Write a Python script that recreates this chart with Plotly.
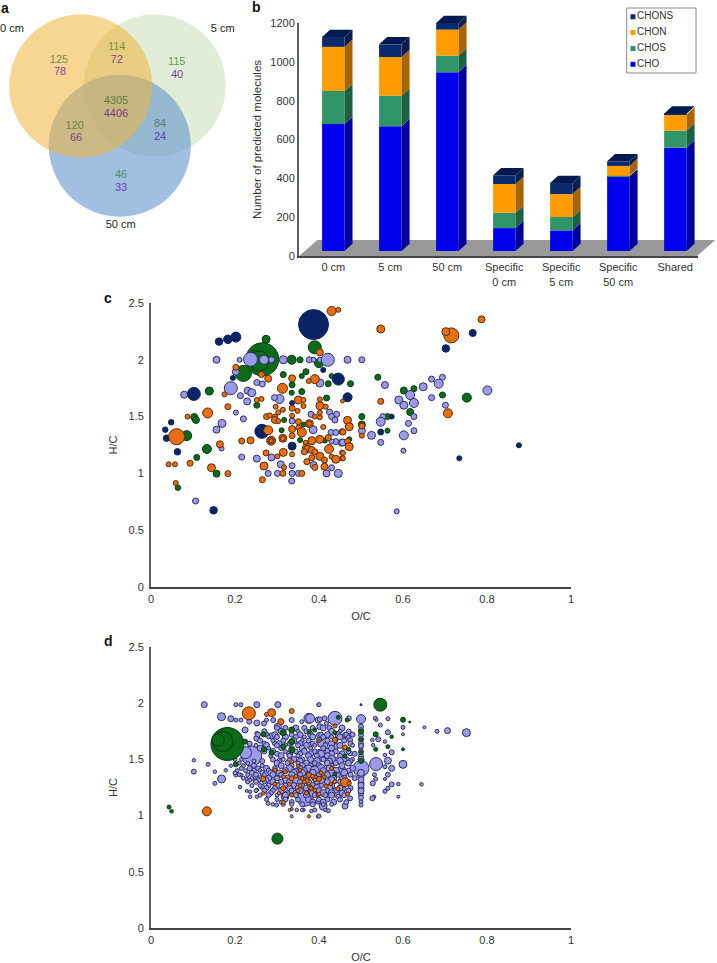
import plotly.graph_objects as go

W, H = 717, 963

# ---------- panel a ----------
VENN_LABELS = ["0 cm", "5 cm", "50 cm"]
VENN_TOP = ["125", "114", "115", "4305", "120", "84", "46"]
VENN_BOTTOM = ["78", "72", "40", "4406", "66", "24", "33"]

# ---------- panel b ----------
CATEGORIES = ["0 cm", "5 cm", "50 cm", "Specific<br>0 cm", "Specific<br>5 cm", "Specific<br>50 cm", "Shared"]
CHO = [654, 642, 920, 118, 106, 385, 532]
CHOS = [170, 158, 86, 79, 69, 2, 88]
CHON = [227, 199, 134, 148, 118, 51, 82]
CHONS = [51, 65, 34, 45, 57, 24, 5]

# ---------- panel c : (O/C, H/C, bubble size) ----------
C_GREEN = [(.265,2.004,33),(.245,2.02,14),(.258,1.99,20),(.22,1.88,16),(.274,2.18,8),(.39,2.11,13),(.40,1.97,9),(.335,2.0,9),(.355,2.0,6),(.315,1.87,6),
 (.369,1.895,6),(.359,1.857,5),(.336,1.78,6),(.335,1.71,5),(.359,1.72,6),(.139,1.725,8),(.422,1.79,6),(.43,1.857,5),(.475,1.79,6),(.418,1.664,6),
 (.252,1.6,6),(.103,1.496,7),(.107,1.47,7),(.085,1.332,10),(.133,1.215,9),(.109,1.14,6),(.156,.998,7),(.064,.874,5.5),(.355,1.294,5),(.317,1.47,5),
 (.311,1.38,5),(.414,1.29,5),(.363,1.43,5),(.502,1.50,6),(.502,1.43,7),(.472,1.30,5),(.54,1.846,6),(.602,1.73,7),(.626,1.746,6),(.694,1.69,6),
 (.752,1.667,9),(.617,1.54,7),(.563,1.50,6),(.563,1.376,5)]
C_PERI = [(.156,2.0,7),(.211,2.0,5),(.237,2.004,14),(.269,2.0,9),(.287,2.0,6),(.315,2.0,8),(.377,2.0,6),(.387,2.0,5),(.402,2.0,5),(.421,2.0,13),
 (.468,2.0,7),(.502,2.0,6),(.202,1.895,7),(.252,1.8,6),(.265,1.787,6),(.19,1.75,13),(.079,1.693,7),(.23,1.728,7),(.24,1.71,8),(.213,1.684,6),
 (.229,1.634,7),(.306,1.655,9),(.294,1.667,6),(.402,1.796,8),(.202,1.535,5),(.22,1.48,6),(.169,1.44,8),(.156,1.385,7),(.168,1.22,5),(.216,1.144,6),
 (.252,1.13,7),(.287,1.14,7),(.309,1.08,7),(.336,1.068,6),(.279,1.0,6),(.301,1.0,6),(.336,1.0,6),(.351,1.0,6),(.335,.933,6),(.106,.757,6),
 (.381,1.52,6),(.336,1.461,6),(.425,1.54,6),(.442,1.52,6),(.43,1.50,6),(.438,1.47,6),(.386,1.385,8),(.429,1.36,6),(.44,1.36,6),(.44,1.28,6),
 (.454,1.27,7),(.43,1.28,5),(.387,1.074,7),(.43,1.05,6),(.418,1.0,7),(.446,1.0,8),(.668,1.83,6),(.694,1.846,6),(.648,1.763,8),(.685,1.79,9),
 (.557,1.778,7),(.801,1.73,9),(.617,1.69,9),(.59,1.646,8),(.602,1.6,8),(.626,1.62,9),(.668,1.667,6),(.701,1.6,6),(.626,1.5,6),(.552,1.5,6),
 (.547,1.455,9),(.613,1.44,6),(.626,1.376,6),(.602,1.335,9),(.525,1.335,8),(.502,1.376,7),(.547,1.273,6),(.601,1.2,5),(.585,.666,5),(.457,1.273,7)]
C_NAVY = [(.387,2.31,30),(.162,2.16,7.5),(.183,2.18,8.5),(.202,2.20,10),(.195,1.84,5),(.102,1.70,13),(.048,1.45,5.5),(.034,1.385,5.5),(.037,1.31,6.5),
 (.063,1.19,6.5),(.149,.675,7.5),(.264,1.37,14),(.336,1.62,5),(.336,1.24,8),(.446,1.83,12),(.468,1.67,9),(.41,1.91,5),(.766,2.236,7),(.702,2.10,7.5),
 (.573,1.50,5),(.547,1.364,6),(.876,1.247,5),(.734,1.133,5)]
C_ORANGE = [(.43,2.43,9),(.446,2.44,5),(.402,2.066,7),(.39,1.83,9),(.376,1.813,5),(.279,1.834,7),(.263,1.87,6),(.202,1.934,6),(.175,1.696,5),(.313,1.749,10),
 (.336,1.837,7),(.183,1.587,6),(.252,1.646,5),(.263,1.655,5),(.135,1.532,10),(.087,1.5,5),(.061,1.323,16),(.164,1.256,7),(.216,1.285,6),(.237,1.291,7),
 (.093,1.089,6),(.042,1.08,5),(.057,1.08,5),(.144,1.05,8),(.183,.998,6),(.059,.915,5),(.265,.945,6),(.275,1.5,6),(.283,1.51,5),(.297,1.587,5),
 (.314,1.56,5),(.303,1.537,5),(.295,1.5,5),(.295,1.47,7),(.303,1.46,5),(.279,1.38,9),(.286,1.288,9),(.286,1.288,6.5),(.286,1.288,4),(.314,1.309,8),(.314,1.309,5),(.336,1.573,6),(.349,1.55,5),
 (.351,1.646,8),(.363,1.646,5),(.363,1.593,5),(.402,1.652,5),(.402,1.596,8),(.416,1.587,5),(.402,1.535,5),(.39,1.5,5),(.402,1.494,5),(.336,1.508,5),
 (.351,1.455,6),(.377,1.438,8),(.377,1.438,5),(.336,1.39,7),(.351,1.403,5),(.359,1.362,9),(.336,1.332,6),(.41,1.408,5),(.455,1.367,6),(.422,1.315,6),(.383,1.288,8),
 (.402,1.3,8),(.468,1.467,8),(.472,1.411,8),(.468,1.28,6),(.472,1.235,8),(.456,1.637,4),(.368,1.27,5),(.371,1.22,9),(.371,1.22,6),(.383,1.206,7),(.39,1.19,6),
 (.424,1.215,9),(.365,1.19,6),(.315,1.185,8),(.274,1.18,6),(.336,1.168,5),(.301,1.15,5),(.383,1.138,6),(.402,1.15,8),(.413,1.118,6),(.43,1.147,5),
 (.44,1.124,8),(.455,1.133,5),(.455,1.183,5),(.371,1.103,6),(.269,1.065,8),(.317,1.053,5),(.39,1.053,6),(.413,1.059,7),(.314,1.0,6),(.359,1.0,6),
 (.547,2.271,8),(.787,2.356,7),(.715,2.215,15),(.702,2.248,8),(.547,1.634,6),(.707,1.529,9),(.502,1.417,6),(.502,1.332,5),(.457,1.364,6),(.457,1.18,5),(.457,1.133,5)]

# ---------- panel d : (O/C, H/C, bubble size) ----------
D_PERI = [(.127,1.987,6),(.202,1.987,4),(.214,1.987,4),(.252,1.987,6),(.302,1.987,6),(.398,1.987,3),(.168,1.88,8),(.19,1.862,6),(.202,1.85,4),(.214,1.85,4),
 (.234,1.836,5),(.252,1.824,6),(.275,1.85,4),(.291,1.85,5),(.269,1.82,5),(.376,1.865,10),(.335,1.85,5),(.359,1.836,4),(.398,1.85,6),(.302,1.791,7),
 (.224,1.762,6),(.252,1.732,4),(.287,1.708,6),(.252,1.687,6),(.295,1.643,5),(.24,1.53,20),(.225,1.56,12),(.102,1.492,3.5),(.102,1.391,5),(.136,1.456,4),(.152,1.391,3.5),
 (.178,1.403,3.5),(.152,1.287,4),(.168,1.326,8),(.212,1.254,3.5),(.202,1.361,4),(.214,1.361,4),(.228,1.326,3.5),(.236,1.213,3.5),(.236,1.168,3.5),(.228,1.22,3),
 (.252,1.228,3.5),(.252,1.168,3.5),(.264,1.257,5),(.248,1.317,4),(.26,1.317,4),(.279,1.109,4),(.299,1.094,4),(.319,1.174,8),(.351,1.213,7),(.367,1.154,16),
 (.335,.993,3),(.347,1.05,3.5),(.363,1.05,3.5),(.398,.993,3.5),(.398,1.124,5),(.4,1.987,4),(.438,1.865,14),(.5,1.859,9),(.471,1.865,5),(.379,1.865,9),
 (.402,1.856,5),(.413,1.865,5),(.418,1.82,4),(.534,1.865,4),(.537,1.85,3),(.564,1.862,4),(.546,1.806,4),(.6,1.785,4),(.564,1.741,5),(.6,1.723,3),
 (.651,1.785,3),(.681,1.75,4),(.706,1.756,6),(.751,1.738,8),(.557,1.658,3.5),(.541,1.679,5),(.527,1.673,3.5),(.529,1.627,3.5),(.557,1.539,3.5),(.573,1.563,5),
 (.564,1.489,7),(.536,1.459,13),(.5,1.42,16),(.6,1.456,8),(.573,1.42,6),(.557,1.435,4),(.564,1.364,5),(.532,1.364,4),(.535,1.326,4),(.557,1.326,3),
 (.528,1.287,5),(.573,1.278,5),(.564,1.243,4),(.557,1.216,4),(.589,1.281,3.5),(.644,1.278,3.5),(.589,1.168,3),(.531,1.168,3.5),(.527,1.154,5),(.5,1.346,6),
 (.5,1.287,6),(.5,1.243,6),(.5,1.192,5),(.5,1.124,4),(.5,1.094,4),(.5,1.791,5),(.5,1.717,5),(.5,1.643,5),(.5,1.599,4),(.5,1.53,5),
 (.462,1.085,6),(.41,1.085,8),(.4,.996,4),(.422,1.044,4),(.382,1.041,3.5),(.439,1.207,9),(.454,1.406,8),(.422,1.569,7),(.438,1.613,7),(.402,1.791,6),
 (.4,1.717,5),(.4,1.51,5),(.4,1.435,5),(.438,1.495,6),(.468,1.495,5),(.471,1.747,5),(.462,1.717,5),(.474,1.673,5),(.474,1.554,5),(.458,1.243,5),
 (.474,1.154,5),(.446,1.168,5),(.5,1.38,7),(.5,1.32,6),(.5,1.27,6),(.5,1.22,6),(.5,1.16,5),(.5,1.76,5),(.5,1.68,5),(.5,1.62,5),(.5,1.57,5),(.5,1.5,6)]
D_PERI_ROWS = {
 1.78: [(.3,5),(.32,5),(.345,6),(.365,5),(.385,5),(.41,6),(.425,5),(.455,6)],
 1.75: [(.27,5),(.31,6),(.35,4),(.37,5),(.43,6),(.45,4)],
 1.72: [(.255,5),(.275,5),(.295,6),(.335,5),(.355,6),(.38,6),(.405,5),(.42,6),(.445,6),(.465,5),(.48,5)],
 1.7: [(.28,4),(.30,5),(.32,6),(.345,5),(.365,4),(.385,6),(.41,5),(.43,4),(.45,6),(.47,4)],
 1.667: [(.26,5),(.29,4),(.315,5),(.34,6),(.36,4),(.375,5),(.40,6),(.42,5),(.44,4),(.46,5)],
 1.64: [(.235,5),(.27,5),(.305,6),(.33,5),(.355,6),(.385,5),(.405,7),(.43,6),(.475,5)],
 1.625: [(.25,4),(.275,6),(.30,5),(.32,4),(.35,5),(.37,6),(.39,4),(.415,5),(.45,6),(.48,4)],
 1.6: [(.26,6),(.28,4),(.31,5),(.335,5),(.36,6),(.38,4),(.41,5),(.43,6),(.46,4)],
 1.571: [(.27,5),(.29,6),(.32,4),(.345,5),(.365,6),(.39,5),(.40,4),(.44,5),(.47,5)],
 1.55: [(.3,5),(.33,6),(.355,5),(.38,6),(.405,7),(.43,6),(.455,6),(.485,5)],
 1.533: [(.285,4),(.31,6),(.33,5),(.35,4),(.375,6),(.395,5),(.42,6),(.45,5)],
 1.5: [(.2,4),(.215,3.5),(.29,5),(.315,4),(.34,6),(.36,5),(.38,6),(.41,5),(.43,8),(.46,5),(.48,4)],
 1.485: [(.245,4),(.265,5),(.305,5),(.33,6),(.355,6),(.395,7),(.425,6),(.45,7),(.475,5)],
 1.467: [(.21,4),(.23,4),(.30,6),(.325,5),(.35,4),(.37,6),(.39,5),(.42,6),(.44,5),(.47,6)],
 1.444: [(.19,3.5),(.22,4),(.245,5),(.265,4),(.31,6),(.335,5),(.36,6),(.38,5),(.40,6),(.43,5),(.455,6)],
 1.42: [(.215,4),(.235,5),(.255,5),(.275,6),(.295,5),(.33,7),(.355,6),(.375,7),(.405,8),(.425,7),(.48,6)],
 1.4: [(.205,4),(.225,4),(.245,5),(.26,4),(.28,5),(.32,6),(.345,5),(.365,6),(.39,9),(.41,6),(.44,7),(.47,5)],
 1.38: [(.2,4),(.24,5),(.265,5),(.285,6),(.305,6),(.34,7),(.36,7),(.385,7),(.43,7),(.46,7)],
 1.364: [(.21,3.5),(.23,4),(.25,5),(.27,4),(.29,6),(.31,5),(.335,6),(.355,5),(.375,6),(.40,5),(.42,6),(.445,5),(.475,5)],
 1.333: [(.22,4),(.24,4),(.26,5),(.28,6),(.30,5),(.325,6),(.35,5),(.37,7),(.39,6),(.41,5),(.435,6),(.46,6),(.485,5)],
 1.315: [(.235,4),(.255,5),(.275,5),(.32,6),(.345,7),(.365,6),(.405,7),(.43,7),(.455,7)],
 1.3: [(.23,4),(.25,5),(.27,4),(.29,6),(.31,5),(.33,6),(.355,5),(.375,6),(.395,5),(.42,6),(.45,5),(.47,5)],
 1.267: [(.24,4),(.26,4),(.28,5),(.30,6),(.32,5),(.34,6),(.36,5),(.385,6),(.405,5),(.43,6),(.455,5)],
 1.245: [(.275,5),(.295,5),(.33,6),(.35,6),(.37,6),(.395,7),(.425,7),(.45,6),(.475,5)],
 1.222: [(.25,4),(.27,5),(.29,5),(.31,6),(.335,5),(.355,6),(.38,5),(.40,6),(.42,5),(.44,5),(.47,5)],
 1.2: [(.285,5),(.325,5),(.345,6),(.385,7),(.41,7),(.43,7),(.455,6)],
 1.182: [(.26,4),(.28,5),(.30,4),(.32,6),(.345,5),(.37,6),(.39,5),(.415,5),(.43,6),(.46,5)],
 1.143: [(.275,4),(.30,4),(.32,5),(.35,5),(.375,6),(.40,5),(.42,5),(.45,5)],
 1.12: [(.31,4),(.335,5),(.385,6),(.41,6),(.435,6),(.465,5)],
 1.1: [(.29,3.5),(.315,4),(.335,4),(.36,5),(.385,5),(.41,4),(.43,4)],
 1.05: [(.33,3),(.36,3.5),(.39,4),(.415,3.5)],
}
D_GREEN = [(.182,1.637,33),(.171,1.658,20),(.16,1.673,12),(.043,1.076,4),(.049,1.038,3.5),(.301,.795,11),(.268,1.723,5),(.315,1.738,6),(.335,1.762,6),(.335,1.658,6),
 (.315,1.613,5),(.335,1.584,6),(.269,1.59,5),(.224,1.658,5),(.202,1.456,5),(.287,1.56,5),(.39,1.762,4),(.377,1.747,4),(.546,1.987,13),(.446,1.874,4),
 (.467,1.85,4),(.5,1.747,5),(.5,1.673,4),(.5,1.56,4),(.5,1.486,5),(.535,1.723,5),(.535,1.59,4),(.6,1.853,5),(.616,1.833,2),(.5,1.987,2),
 (.573,1.702,3.5),(.564,1.613,4),(.6,1.59,3),(.438,1.738,4),(.47,1.59,4),(.438,1.37,4),(.462,1.53,4)]
D_ORANGE = [(.233,1.91,13),(.287,1.916,8),(.275,1.9,4),(.309,1.836,6),(.335,1.93,5),(.133,1.038,9),(.315,1.243,5),(.267,1.326,5),(.295,1.281,4),(.267,1.198,3.5),
 (.315,1.118,4),(.335,1.183,4),(.335,1.059,3),(.376,.993,3),(.376,1.361,5),(.355,1.406,3.5),(.371,1.308,5),(.379,1.251,5),(.39,1.228,4),(.355,1.266,4),
 (.335,1.48,4),(.335,1.332,5),(.315,1.346,4),(.295,1.406,4),(.39,1.317,4),(.398,1.183,4),(.462,1.296,9),(.438,1.673,5),(.462,1.607,5),(.438,1.797,4),
 (.4,1.664,3),(.4,1.326,5),(.413,1.346,4),(.43,1.42,4),(.438,1.302,4),(.428,1.281,3.5),(.417,1.263,4),(.4,1.192,4),(.468,1.192,4),(.381,1.243,4),(.472,1.287,4),
 (.345,1.35,4),(.36,1.33,4),(.33,1.28,4),(.35,1.222,4),(.365,1.3,4),(.32,1.39,4),(.385,1.35,4),(.405,1.38,4),(.445,1.24,4),(.35,1.44,3.5),(.37,1.2,4),(.305,1.2,3.5)]

AXIS_TICKS_X = [0, .2, .4, .6, .8, 1]
AXIS_TICKS_Y = [0, .5, 1, 1.5, 2, 2.5]

FONT = "Liberation Sans"
TXT = "#333333"
AX = "#606060"

def dx(a, b):
    return [a / W, b / W]

def dy(top, bottom):
    return [1 - bottom / H, 1 - top / H]

fig = go.Figure()

# ---------- bars (b) ----------
bx = dict(domain=dx(299, 717), range=[-0.602, 6.73], visible=False)
by = dict(domain=dy(5, 256), range=[-25.7, 1266.7], visible=False)
DEPTH_X, DEPTH_Y, HALF = 0.14, 37.8, 0.197
x_idx = list(range(len(CATEGORIES)))

# invisible carrier so that the labelled axes of panel b are drawn
fig.add_trace(go.Scatter(x=x_idx, y=[0] * 7, xaxis="x", yaxis="y", mode="markers", marker=dict(size=1, opacity=0), hoverinfo="skip", showlegend=False))

stacks = [("CHO", CHO, "#0000EE", "#00009E"), ("CHOS", CHOS, "#2F9468", "#1F6040"),
          ("CHON", CHON, "#FF9C00", "#A86400"), ("CHONS", CHONS, "#0A2A6E", "#0A1F50")]
bottoms = [0] * 7
for name, vals, front, side in stacks:
    for i in x_idx:
        lo, hi = bottoms[i], bottoms[i] + vals[i]
        r = i + HALF
        fig.add_trace(go.Scatter(x=[r, r + DEPTH_X, r + DEPTH_X, r, r], y=[lo, lo + DEPTH_Y, hi + DEPTH_Y, hi, lo],
                                 xaxis="x2", yaxis="y2", mode="lines", line=dict(width=0), fill="toself",
                                 fillcolor=side, hoverinfo="skip", showlegend=False))
    fig.add_trace(go.Bar(x=x_idx, y=vals, base=bottoms, name=name, xaxis="x2", yaxis="y2", width=2 * HALF,
                         marker=dict(color=front, line=dict(width=0)), showlegend=False))
    bottoms = [b + v for b, v in zip(bottoms, vals)]
for i in x_idx:
    l, r, t = i - HALF, i + HALF, bottoms[i]
    fig.add_trace(go.Scatter(x=[l, r, r + DEPTH_X, l + DEPTH_X, l], y=[t, t, t + DEPTH_Y, t + DEPTH_Y, t], xaxis="x2", yaxis="y2",
                             mode="lines", line=dict(width=0), fill="toself", fillcolor="#001A50", hoverinfo="skip", showlegend=False))

# legend of (b)
LEGEND_NAMES = ["CHONS", "CHON", "CHOS", "CHO"]
LEGEND_COLORS = ["#0A2A6E", "#FF9C00", "#2F9468", "#0000EE"]
LEGEND_Y = [3, 2, 1, 0]
fig.add_trace(go.Scatter(x=[0.09] * 4, y=LEGEND_Y, xaxis="x6", yaxis="y6", mode="markers+text", text=LEGEND_NAMES,
                         textposition="middle right", textfont=dict(family=FONT, size=10, color=TXT),
                         marker=dict(symbol="square", size=5, color=LEGEND_COLORS), hoverinfo="skip", showlegend=False))

# ---------- bubbles ----------
def bubble(points, color, edge, xa, ya):
    fig.add_trace(go.Scatter(x=[p[0] for p in points], y=[p[1] for p in points], xaxis=xa, yaxis=ya, mode="markers",
                             marker=dict(size=[p[2] for p in points], color=color, opacity=1, line=dict(width=1, color=edge)),
                             hoverinfo="x+y", showlegend=False))

GREEN, GE = "#0B6B1B", "#053A0C"
PERI, PE = "#9A9AE8", "#2E2E66"
NAVY, NE = "#0A2463", "#0A2463"
ORANGE, OE = "#E96E12", "#5A2C08"

bubble(C_GREEN, GREEN, GE, "x3", "y3")
bubble(C_PERI, PERI, PE, "x3", "y3")
bubble(C_NAVY, NAVY, NE, "x3", "y3")
bubble(C_ORANGE, ORANGE, OE, "x3", "y3")

d_dense = [(x, y, s) for y, row in D_PERI_ROWS.items() for x, s in row]
bubble(D_PERI + d_dense, PERI, PE, "x4", "y4")
bubble(D_ORANGE, ORANGE, OE, "x4", "y4")
bubble(D_GREEN, GREEN, GE, "x4", "y4")

# ---------- venn (a) ----------
VENN_X = [59, 116.7, 176.7, 116, 74.7, 160, 121]
VENN_Y_TOP = [60.7, 47.7, 62.7, 101.7, 126.3, 124.3, 175.3]
VENN_X2 = [60, 116.7, 177, 116, 76, 160, 121]
VENN_Y_BOT = [72.7, 60.7, 75.3, 114.3, 138.7, 137.7, 188]
TOP_COL = ["#7C8F3E", "#7C8F3E", "#6F9A4E", "#5E7E3E", "#6E7E3E", "#55806A", "#4E8A6E"]
BOT_COL = ["#93409A", "#86408C", "#6E42B4", "#7A3C8C", "#86408C", "#5C3CA8", "#6A3CC0"]
fig.add_trace(go.Scatter(x=VENN_X, y=VENN_Y_TOP, text=VENN_TOP, xaxis="x5", yaxis="y5", mode="text",
                         textfont=dict(family=FONT, size=11, color=TOP_COL), hoverinfo="skip", showlegend=False))
fig.add_trace(go.Scatter(x=VENN_X2, y=VENN_Y_BOT, text=VENN_BOTTOM, xaxis="x5", yaxis="y5", mode="text",
                         textfont=dict(family=FONT, size=11, color=BOT_COL), hoverinfo="skip", showlegend=False))
fig.add_trace(go.Scatter(x=[12, 222.7, 120.7], y=[29, 29, 225.7], text=VENN_LABELS, xaxis="x5", yaxis="y5", mode="text",
                         textfont=dict(family=FONT, size=11, color="#222222"), hoverinfo="skip", showlegend=False))

shapes = []
for cx, cy, r, col, op in [(154.7, 85.5, 71, "#C4DCB0", .5), (119.8, 145.7, 71, "#6294CB", .6), (80.7, 86, 71.5, "#F0B43C", .55)]:
    shapes.append(dict(type="circle", xref="x5", yref="y5", x0=cx - r, x1=cx + r, y0=cy - r, y1=cy + r,
                       fillcolor=col, opacity=op, line=dict(width=0), layer="below"))
shapes.append(dict(type="rect", xref="paper", yref="paper", x0=626.7 / W, x1=696 / W, y0=1 - 73 / H, y1=1 - 8 / H,
                   line=dict(color="#8A8A8A", width=1), fillcolor="white", layer="below"))
# grey floor under the bars
shapes.append(dict(type="path", xref="x2", yref="y2", layer="below", fillcolor="#999999", line=dict(width=0),
                   path="M -0.6 -25.7 L 6.38 -25.7 L 6.7 57 L -0.28 57 Z"))

def scatter_axes(left, right, top, bottom, anchor_x, anchor_y, rx, ry, title_x, title_y):
    xa = dict(domain=dx(left, right), range=rx, anchor=anchor_y, tickvals=AXIS_TICKS_X, ticktext=[str(v) for v in AXIS_TICKS_X],
              showline=True, linecolor="#444444", linewidth=2, showgrid=False, zeroline=False, ticks="", ticklabelstandoff=1,
              tickfont=dict(family=FONT, size=11, color=TXT), title=dict(text=title_x, font=dict(family=FONT, size=11, color=TXT), standoff=8))
    ya = dict(domain=dy(top, bottom), range=ry, anchor=anchor_x, tickvals=AXIS_TICKS_Y, ticktext=[str(v) for v in AXIS_TICKS_Y],
              showline=True, linecolor=AX, linewidth=2, showgrid=False, zeroline=False, ticks="", ticklabelstandoff=3,
              tickfont=dict(family=FONT, size=11, color=TXT), title=dict(text=title_y, font=dict(family=FONT, size=11, color=TXT), standoff=9))
    return xa, ya

x3, y3 = scatter_axes(151, 571, 303, 587, "x3", "y3", [0, 1], [0, 2.5], "O/C", "H/C")
x4, y4 = scatter_axes(151, 571, 647, 928, "x4", "y4", [0, 1], [0, 2.5], "O/C", "H/C")

layout_axes = dict(
    xaxis=dict(domain=dx(299, 698), range=[-0.602, 6.4], anchor="y", tickvals=x_idx, ticktext=CATEGORIES, showline=True,
               linecolor="#444444", linewidth=2, showgrid=False, zeroline=False, ticks="", tickfont=dict(family=FONT, size=11, color=TXT)),
    yaxis=dict(domain=dy(23, 256), range=[0, 1200], anchor="x", tickvals=[0, 200, 400, 600, 800, 1000, 1200], showline=True,
               linecolor=AX, linewidth=2, showgrid=False, zeroline=False, ticks="", tickfont=dict(family=FONT, size=11, color=TXT),
               title=dict(text="Number of predicted molecules", font=dict(family=FONT, size=11.5, color=TXT), standoff=6)),
    xaxis2=dict(bx, anchor="y2"), yaxis2=dict(by, anchor="x2"),
    xaxis3=x3, yaxis3=y3, xaxis4=x4, yaxis4=y4,
    xaxis5=dict(domain=dx(0, 240), range=[0, 240], visible=False, anchor="y5"),
    yaxis5=dict(domain=dy(0, 240), range=[240, 0], visible=False, anchor="x5"),
    xaxis6=dict(domain=dx(626.7, 696), range=[0, 1], visible=False, anchor="y6"),
    yaxis6=dict(domain=dy(8, 73), range=[-0.55, 3.55], visible=False, anchor="x6"),
)

letters = [("a", 5, 8), ("b", 256, 7), ("c", 108, 298), ("d", 108, 641)]
annotations = [dict(text=t, x=px / W, y=1 - py / H, xref="paper", yref="paper", showarrow=False, xanchor="center", yanchor="middle",
                    font=dict(family=FONT, size=14, color="#111111", weight="bold")) for t, px, py in letters]

fig.update_layout(width=W, height=H, autosize=False, margin=dict(l=0, r=0, t=0, b=0, pad=0, autoexpand=False), paper_bgcolor="white", plot_bgcolor="rgba(0,0,0,0)",
                  barmode="overlay", shapes=shapes, annotations=annotations, font=dict(family=FONT), **layout_axes)

fig.write_html("out.html", config=dict(displayModeBar=False), post_script="document.body.style.margin='0';document.body.style.overflow='hidden';")
